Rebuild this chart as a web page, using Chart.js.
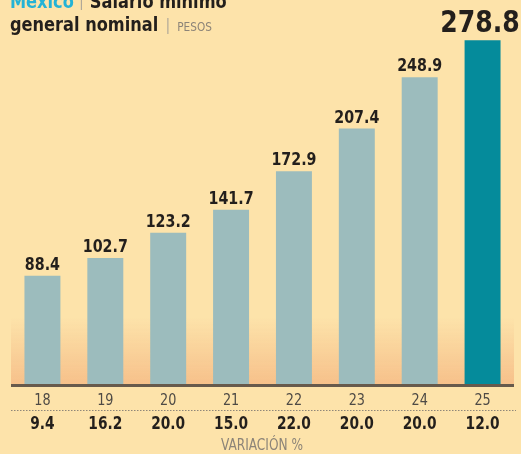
<!DOCTYPE html>
<html>
<head>
<meta charset="utf-8">
<script src="https://cdn.jsdelivr.net/npm/chart.js@4/dist/chart.umd.min.js"></script>
<style>
  html, body { margin:0; padding:0; background:#fde3aa; }
  #wrap { position:relative; width:521px; height:454px; }
</style>
</head>
<body>
<div id="wrap"><canvas id="c" width="521" height="454"></canvas></div>
<script>
const years = ["18","19","20","21","22","23","24","25"];
const salary = [88.4, 102.7, 123.2, 141.7, 172.9, 207.4, 248.9, 278.8];
const variation = ["9.4","16.2","20.0","15.0","22.0","20.0","20.0","12.0"];
const titleLine1a = "México";
const titleLine1b = "Salario mínimo";
const titleLine2 = "general nominal";
const unitLabel = "PESOS";
const footLabel = "VARIACIÓN %";

const FONT = '"DejaVu Sans Condensed", "Liberation Sans Narrow", sans-serif';

function sText(ctx, txt, x, y, sx, align) {
  ctx.save();
  ctx.translate(x, y);
  ctx.scale(sx, 1);
  ctx.textAlign = align || 'center';
  ctx.fillText(txt, 0, 0);
  ctx.restore();
  return ctx.measureText(txt).width * sx;
}

const decor = {
  id: 'decor',
  beforeDatasetsDraw(chart) {
    const { ctx, chartArea: a } = chart;
    ctx.save();
    const g = ctx.createLinearGradient(0, 318, 0, a.bottom);
    g.addColorStop(0, 'rgba(246,192,138,0)');
    g.addColorStop(1, 'rgba(246,192,138,1)');
    ctx.fillStyle = g;
    ctx.fillRect(a.left, 318, a.right - a.left, a.bottom - 318);
    ctx.restore();
  },
  afterDatasetsDraw(chart) {
    const { ctx, chartArea: a } = chart;
    const meta = chart.getDatasetMeta(0);
    const xs = chart.scales.x;
    ctx.save();
    ctx.textBaseline = 'alphabetic';
    // baseline
    ctx.strokeStyle = '#675a4c';
    ctx.lineWidth = 3;
    ctx.beginPath();
    ctx.moveTo(a.left, a.bottom + 0.5);
    ctx.lineTo(a.right, a.bottom + 0.5);
    ctx.stroke();

    // value labels
    meta.data.forEach((bar, i) => {
      const last = i === salary.length - 1;
      ctx.fillStyle = '#231f1c';
      if (last) {
        ctx.font = 'bold 31px ' + FONT;
        sText(ctx, salary[i].toFixed(1), 480, 32, 0.9);
      } else {
        ctx.font = 'bold 18px ' + FONT;
        sText(ctx, salary[i].toFixed(1), bar.x, bar.y - 6, 0.88);
      }
    });

    // year labels
    ctx.font = '15px ' + FONT;
    ctx.fillStyle = '#4e4a45';
    years.forEach((y, i) => {
      sText(ctx, y, xs.getPixelForValue(i), 405, 0.95);
    });

    // dotted line
    ctx.strokeStyle = '#8f8679';
    ctx.lineWidth = 1;
    ctx.setLineDash([1.5, 1.5]);
    ctx.beginPath();
    ctx.moveTo(a.left, 410.5);
    ctx.lineTo(a.right + 2, 410.5);
    ctx.stroke();
    ctx.setLineDash([]);

    // variation
    ctx.font = 'bold 17px ' + FONT;
    ctx.fillStyle = '#231f1c';
    variation.forEach((v, i) => {
      sText(ctx, v, xs.getPixelForValue(i), 429, 0.9);
    });

    // footer
    ctx.font = '15px ' + FONT;
    ctx.fillStyle = '#8c8478';
    sText(ctx, footLabel, 262, 450, 0.9);

    // title
    ctx.font = 'bold 20px ' + FONT;
    ctx.fillStyle = '#24b3d6';
    let w = sText(ctx, titleLine1a, 10, 8, 0.9, 'left');
    ctx.fillStyle = '#b0a898';
    ctx.fillRect(10 + w + 7, -4, 1.2, 14);
    ctx.fillStyle = '#231f1c';
    ctx.font = 'bold 20px ' + FONT;
    sText(ctx, titleLine1b, 10 + w + 16, 8, 0.9, 'left');
    w = sText(ctx, titleLine2, 10, 31, 0.9, 'left');
    ctx.fillStyle = '#b0a898';
    ctx.fillRect(10 + w + 9, 18, 1.2, 16);
    ctx.font = '13px ' + FONT;
    ctx.fillStyle = '#8c8478';
    sText(ctx, unitLabel, 10 + w + 19, 31, 0.9, 'left');
    ctx.restore();
  }
};

new Chart(document.getElementById('c'), {
  type: 'bar',
  data: {
    labels: years,
    datasets: [{
      data: salary,
      backgroundColor: salary.map((v, i) => i === salary.length - 1 ? '#058b9b' : '#9cbcbd'),
      borderWidth: 0,
      categoryPercentage: 1,
      barPercentage: 0.572
    }]
  },
  options: {
    responsive: false,
    animation: false,
    events: [],
    layout: { padding: { left: 11, right: 7, top: 14, bottom: 69 } },
    plugins: { legend: { display: false }, tooltip: { enabled: false }, title: { display: false } },
    scales: {
      x: { display: false },
      y: { display: false, min: 0, max: 300 }
    }
  },
  plugins: [decor]
});
</script>
</body>
</html>
